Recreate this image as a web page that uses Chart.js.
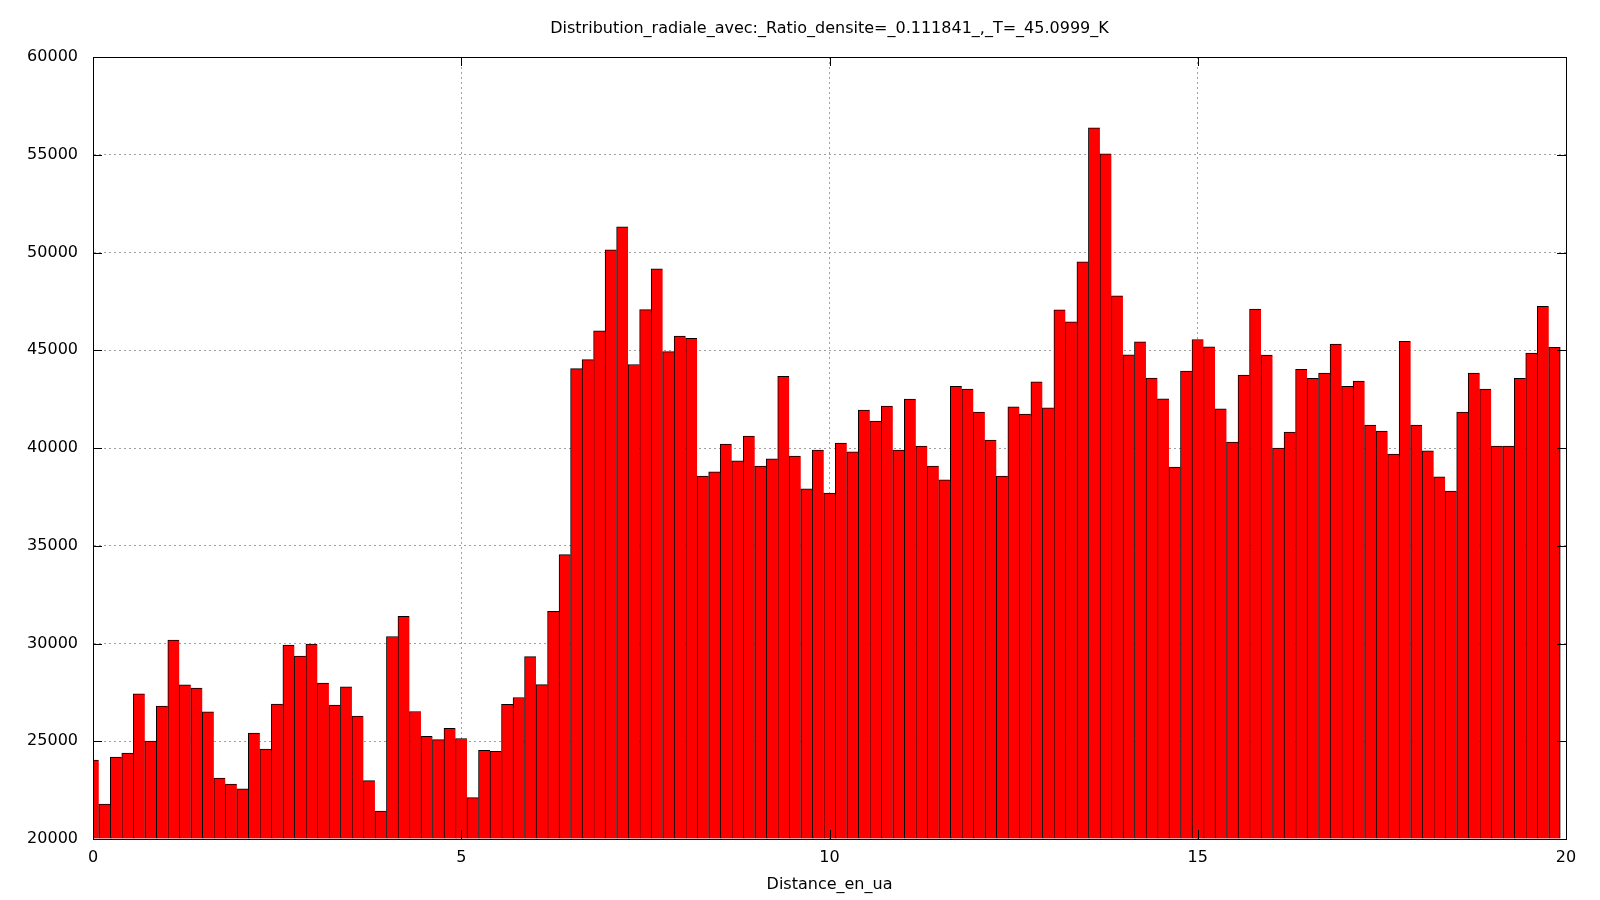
<!DOCTYPE html>
<html>
<head>
<meta charset="utf-8">
<script src="https://cdn.jsdelivr.net/npm/chart.js@4"></script>
<style>
  html, body { margin: 0; padding: 0; background: #fff; }
  #wrap { width: 1600px; height: 900px; }
</style>
</head>
<body>
<div id="wrap"><canvas id="chart" width="1600" height="900"></canvas></div>
<script>
// Histogram: 128 bins of width 20/128 over 0..20 ua, one count per bin
const binWidth = 20 / 128;
const counts = [
  24040, 21790, 24190, 24400, 27420, 25010, 26800, 30180, 27880, 27720,
  26500, 23120, 22810, 22560, 25420, 24600, 26900, 29920, 29360, 29970,
  27980, 26850, 27780, 26290, 22990, 21430, 30360, 31390, 26520, 25250,
  25080, 25660, 25140, 22120, 24530, 24490, 26890, 27240, 29330, 27900,
  31640, 34550, 44060, 44520, 45990, 50140, 51310, 44270, 47080, 49160,
  44930, 45730, 45610, 38570, 38780, 40200, 39340, 40610, 39080, 39440,
  43670, 39590, 37910, 39900, 37700, 40250, 39800, 41940, 41380, 42140,
  39900, 42500, 40100, 39080, 38370, 43160, 43015, 41840, 40410, 38570,
  42100, 41740, 43380, 42050, 47070, 46450, 49520, 56380, 55050, 47780,
  44760, 45430, 43580, 42510, 39030, 43940, 45550, 45170, 42000, 40300,
  43730, 47100, 44750, 40000, 40820, 44030, 43570, 43830, 45310, 43160,
  43420, 41170, 40870, 39690, 45460, 41170, 39850, 38520, 37800, 41840,
  43830, 43010, 40100, 40100, 43570, 44850, 47250, 45150
];
const binCenters = counts.map((_, i) => i * binWidth);

const xTicks = [0, 5, 10, 15, 20];
const yTicks = [20000, 25000, 30000, 35000, 40000, 45000, 50000, 55000, 60000];

const titleText = 'Distribution_radiale_avec:_Ratio_densite=_0.111841_,_T=_45.0999_K';
const xLabel = 'Distance_en_ua';

const FONT = 'DejaVu Sans';
const FSIZE = 16;

// gnuplot-like frame with inward tick marks on all four sides
const framePlugin = {
  id: 'frame',
  afterDatasetsDraw(chart) {
    const { ctx, chartArea: a, scales } = chart;
    const len = 9;
    ctx.save();
    ctx.strokeStyle = '#000';
    ctx.lineWidth = 1;
    ctx.beginPath();
    for (const v of yTicks) {
      const y = Math.round(scales.y.getPixelForValue(v)) + 0.5;
      ctx.moveTo(a.left, y); ctx.lineTo(a.left + len, y);
      ctx.moveTo(a.right, y); ctx.lineTo(a.right - len, y);
    }
    for (const v of xTicks) {
      const x = Math.round(scales.x.getPixelForValue(v)) + 0.5;
      ctx.moveTo(x, a.bottom); ctx.lineTo(x, a.bottom - len);
      ctx.moveTo(x, a.top); ctx.lineTo(x, a.top + len);
    }
    ctx.stroke();
    ctx.strokeRect(Math.round(a.left) + 0.5, Math.round(a.top) + 0.5,
      Math.round(a.right - a.left), Math.round(a.bottom - a.top));
    ctx.restore();
  }
};

new Chart(document.getElementById('chart'), {
  type: 'bar',
  data: {
    datasets: [{
      data: binCenters.map((x, i) => ({ x: x, y: counts[i] })),
      backgroundColor: '#ff0000',
      borderColor: '#000000',
      borderWidth: ctx => ({ top: 1, left: 1, bottom: 0, right: ctx.dataIndex === counts.length - 1 ? 1 : 0 }),
      borderSkipped: false,
      barPercentage: 1,
      categoryPercentage: 1,
      base: 20000,
      clip: 0
    }]
  },
  options: {
    responsive: false,
    animation: false,
    devicePixelRatio: 1,
    layout: { padding: { left: 0, right: 34, top: 0, bottom: 0 } },
    plugins: {
      legend: { display: false },
      tooltip: { enabled: false },
      title: {
        display: true,
        fullSize: false, // centre over the plot area, like gnuplot
        text: titleText,
        color: '#000',
        font: { family: FONT, size: FSIZE, weight: 'normal' },
        padding: { top: 19, bottom: 18.8 }
      }
    },
    scales: {
      x: {
        type: 'linear',
        min: 0,
        max: 20,
        offset: false,
        afterFit: s => { s.height = 61; },
        afterBuildTicks: s => { s.ticks = xTicks.map(v => ({ value: v })); },
        grid: { offset: false, drawTicks: false, color: '#a0a0a0', lineWidth: 1 },
        border: { display: true, color: '#000', width: 1, dash: [2, 3] },
        ticks: {
          padding: 9.5,
          color: '#000',
          maxRotation: 0,
          autoSkip: false,
          font: { family: FONT, size: FSIZE }
        },
        title: {
          display: true,
          text: xLabel,
          color: '#000',
          font: { family: FONT, size: FSIZE },
          padding: { top: 0, bottom: 5.4 }
        }
      },
      y: {
        min: 20000,
        max: 60000,
        afterFit: s => { s.width = 93; },
        afterBuildTicks: s => { s.ticks = yTicks.map(v => ({ value: v })); },
        grid: { drawTicks: false, color: '#a0a0a0', lineWidth: 1 },
        border: { display: true, color: '#000', width: 1, dash: [2, 3] },
        ticks: {
          padding: 15,
          color: '#000',
          autoSkip: false,
          font: { family: FONT, size: FSIZE },
          callback: v => String(v)
        }
      }
    }
  },
  plugins: [framePlugin]
});
</script>
</body>
</html>
